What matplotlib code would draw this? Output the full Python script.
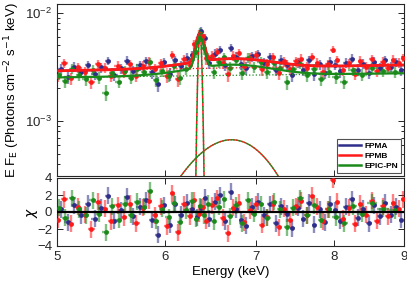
import numpy as np
import matplotlib
matplotlib.use("Agg")
import matplotlib.pyplot as plt
from matplotlib.ticker import FixedLocator, NullLocator, NullFormatter, FixedFormatter

plt.rcParams['font.family'] = ['Liberation Sans', 'DejaVu Sans']

# ---------------- data ----------------
series_names = ["FPMA", "FPMB", "EPIC-PN"]

fpma_E = [5.03, 5.09, 5.15, 5.21, 5.27, 5.33, 5.39, 5.45, 5.51, 5.57,
          5.63, 5.69, 5.75, 5.81, 5.87, 5.93, 5.99, 6.05, 6.11, 6.17,
          6.23, 6.29, 6.34, 6.38, 6.42, 6.47, 6.53, 6.59, 6.65, 6.71,
          6.77, 6.83, 6.89, 6.96, 7.03, 7.10, 7.17, 7.24, 7.31, 7.38,
          7.45, 7.52, 7.59, 7.66, 7.73, 7.80, 7.87, 7.94, 8.01, 8.08,
          8.16, 8.24, 8.32, 8.40, 8.48, 8.56, 8.64, 8.72, 8.80, 8.88, 8.96]
fpma_chi = [0.3, -1.2, 0.8, -0.4, 1.0, -0.8, 0.5, 1.9, -1.0, 0.2,
            1.8, -0.5, 0.6, 1.4, -0.9, -2.7, 0.8, -1.5, 0.9, -0.3,
            1.1, 0.4, -0.6, 0.5, 1.7, -0.8, 1.2, 2.0, -1.1, 2.4,
            0.3, -0.9, -1.6, 0.6, 1.2, -0.4, 0.9, -1.3, 0.7, -0.2,
            -1.9, 0.5, -0.8, 1.1, -1.5, 0.3, -1.2, 0.9, 0.2, -1.0,
            0.6, 1.5, -0.7, 0.4, -1.3, 0.8, -0.5, 1.1, -0.3, 0.6, -0.9]

fpmb_E = [5.01, 5.06, 5.12, 5.18, 5.24, 5.30, 5.36, 5.42, 5.48, 5.54,
          5.60, 5.66, 5.72, 5.78, 5.84, 5.90, 5.96, 6.02, 6.08, 6.14,
          6.20, 6.26, 6.31, 6.36, 6.40, 6.44, 6.50, 6.56, 6.62, 6.68,
          6.74, 6.80, 6.86, 6.93, 7.00, 7.07, 7.14, 7.21, 7.28, 7.35,
          7.42, 7.49, 7.56, 7.63, 7.70, 7.77, 7.84, 7.91, 7.98, 8.04,
          8.12, 8.20, 8.28, 8.36, 8.44, 8.52, 8.60, 8.68, 8.76, 8.84,
          8.92, 8.99]
fpmb_chi = [-0.9, 1.5, -1.4, 0.6, -0.3, -2.0, 1.2, 0.4, -1.1, 0.8,
            -0.6, 1.0, -1.3, 0.5, 1.3, -0.4, 0.7, -1.7, 2.2, -2.4,
            0.9, -0.5, 1.4, -0.2, 0.6, -1.0, 0.8, 1.6, -0.7, -2.5,
            0.5, 1.1, -1.2, 0.2, 0.9, -1.5, -0.6, 1.0, -1.8, 0.4,
            -0.9, 0.7, 1.3, -0.4, 1.9, 0.6, -1.1, 0.3, 3.8, 1.2,
            -0.8, 0.5, -1.4, 1.0, -0.3, 1.3, -1.0, 0.7, -0.5, 1.1,
            0.4, 1.5]

epic_E = [5.02, 5.07, 5.13, 5.19, 5.25, 5.31, 5.37, 5.43, 5.49, 5.55,
          5.61, 5.67, 5.73, 5.79, 5.85, 5.91, 5.97, 6.04, 6.10, 6.16,
          6.22, 6.28, 6.33, 6.37, 6.41, 6.46, 6.52, 6.58, 6.64, 6.70,
          6.77, 6.84, 6.91, 6.98, 7.06, 7.14, 7.22, 7.30, 7.38, 7.46,
          7.55, 7.64, 7.73, 7.82, 7.92, 8.02, 8.13, 8.25, 8.38, 8.52,
          8.68, 8.86]
epic_chi = [0.5, -0.7, 1.6, 0.3, -0.4, 1.4, -0.2, -2.4, 0.7, -0.9,
            0.9, -0.3, 1.2, 0.6, 2.5, -1.0, 0.4, -0.6, 1.1, -1.2,
            0.2, 1.3, -0.8, 0.7, -0.4, 1.0, -1.1, 0.6, 1.5, -0.5,
            0.8, -1.3, 1.4, -0.2, 0.9, -0.7, 1.2, 0.3, -1.8, 0.5,
            1.6, -0.4, 0.8, -0.9, 0.3, -0.6, -1.3, 0.7, -0.2, 1.1,
            0.4, 0.2]

rel_err = {"FPMA": 0.11, "FPMB": 0.11, "EPIC-PN": 0.12}

# model parameters
cont_norm5 = {"FPMA": 2.9e-3, "FPMB": 2.9e-3, "EPIC-PN": 2.52e-3}
cont_index = {"FPMA": 0.21, "FPMB": 0.21, "EPIC-PN": 0.15}
broad_amp, broad_E, broad_sig = 6.7e-4, 6.72, 0.445
narrow_area, narrow_E = 2.9e-4, 6.37
narrow_sig_comp, narrow_sig_fold = 0.018, 0.040

colors = {"FPMA": "#2e2e8a", "FPMB": "#ff1a1a", "EPIC-PN": "#1a8a1a"}

# ---------------- model functions ----------------
def cont(E, s):
    return cont_norm5[s] * (np.asarray(E) / 5.0) ** cont_index[s]

def gauss(E, amp, c, sig):
    return amp * np.exp(-0.5 * ((np.asarray(E) - c) / sig) ** 2)

def narrow(E, sig):
    amp = narrow_area / (sig * np.sqrt(2 * np.pi))
    return gauss(E, amp, narrow_E, sig)

def total(E, s):
    return cont(E, s) + gauss(E, broad_amp, broad_E, broad_sig) + narrow(E, narrow_sig_fold)

def halfwidths(E):
    E = np.asarray(E)
    d = np.diff(E)
    left = np.concatenate([[d[0]], d]) / 2
    right = np.concatenate([d, [d[-1]]]) / 2
    return np.vstack([left, right])

data = {"FPMA": (fpma_E, fpma_chi), "FPMB": (fpmb_E, fpmb_chi), "EPIC-PN": (epic_E, epic_chi)}

# ---------------- figure ----------------
fig = plt.figure(figsize=(4.07, 2.84), dpi=100)
L, R = 57 / 407, 404 / 407
ax1 = fig.add_axes([L, 1 - 176 / 284, R - L, (176 - 4) / 284])
ax2 = fig.add_axes([L, 1 - 246 / 284, R - L, (246 - 178) / 284])

Efine = np.linspace(5, 9, 3000)

for s in series_names:
    E, chi = data[s]
    E = np.asarray(E); chi = np.asarray(chi)
    m = total(E, s)
    err = m * rel_err[s]
    flux = m + chi * err
    xe = halfwidths(E)
    ax1.errorbar(E, flux, yerr=err, xerr=xe, fmt='none', ecolor=colors[s],
                 elinewidth=1.7, alpha=0.55, zorder=2)
    ax1.plot(E, flux, 'o', color=colors[s], ms=3.4, mew=0, zorder=3)
    ax2.errorbar(E, chi, yerr=np.ones_like(chi), xerr=xe, fmt='none', ecolor=colors[s],
                 elinewidth=1.7, alpha=0.55, zorder=2)
    ax2.plot(E, chi, 'o', color=colors[s], ms=3.4, mew=0, zorder=3)

# model lines
ax1.plot(Efine, total(Efine, "FPMA"), color=colors["FPMA"], lw=1.6, zorder=4)
ax1.plot(Efine, total(Efine, "FPMB"), color=colors["FPMB"], lw=2.0, zorder=4)
ax1.plot(Efine, total(Efine, "EPIC-PN"), color=colors["EPIC-PN"], lw=1.6, zorder=5)
# continua
ax1.plot(Efine, cont(Efine, "FPMB"), color=colors["FPMB"], lw=0.9, ls=':', zorder=4)
ax1.plot(Efine, cont(Efine, "EPIC-PN"), color=colors["EPIC-PN"], lw=0.9, ls=':', zorder=4)
# broad line
bl = gauss(Efine, broad_amp, broad_E, broad_sig)
ax1.plot(Efine, bl, color=colors["EPIC-PN"], lw=1.0, zorder=4)
ax1.plot(Efine, bl, color=colors["FPMB"], lw=1.0, ls=(0, (1, 1)), zorder=4)
# narrow line component
nl = narrow(Efine, narrow_sig_comp)
ax1.plot(Efine, nl, color=colors["FPMB"], lw=1.1, ls=(0, (3, 2)), zorder=4)
ax1.plot(Efine, nl, color=colors["EPIC-PN"], lw=1.1, ls=(2.5, (3, 2)), zorder=4)

ax2.axhline(0, color='black', lw=1.6, zorder=4)

# axes styling
xt = [5, 6, 7, 8, 9]
for ax in (ax1, ax2):
    ax.set_xscale('log')
    ax.set_xlim(5, 9)
    ax.xaxis.set_major_locator(FixedLocator(xt))
    ax.xaxis.set_minor_locator(NullLocator())
    ax.xaxis.set_minor_formatter(NullFormatter())
    ax.tick_params(which='both', direction='in', top=True, right=True,
                   labelsize=9.5, colors='#262626', width=0.7)
    ax.tick_params(which='major', length=4)
    ax.tick_params(which='minor', length=2)
    for sp in ax.spines.values():
        sp.set_color('#262626'); sp.set_linewidth(0.8)

ax1.set_yscale('log')
ax1.set_ylim(3.1e-4, 1.2e-2)
ax1.xaxis.set_major_formatter(NullFormatter())
ax1.set_ylabel(r'E F$_\mathrm{E}$ (Photons cm$^{-2}$ s$^{-1}$ keV)', fontsize=9.5, labelpad=2)

ax2.xaxis.set_major_formatter(FixedFormatter([str(v) for v in xt]))
ax2.set_ylim(-4, 4)
ax2.set_yticks([-4, -2, 0, 2, 4])
ax2.set_xlabel('Energy (keV)', fontsize=9.5, labelpad=2)
ax2.set_ylabel(r'$\chi$', fontsize=10)
ax2.yaxis.set_label_coords(-0.05, 0.5)

handles = [plt.Line2D([], [], color=colors[s], lw=1.8) for s in series_names]
leg = ax1.legend(handles, series_names, loc='lower right',
                 prop={'weight': 'bold', 'size': 6}, frameon=True, fancybox=False,
                 edgecolor='#262626', handlelength=2.6, borderpad=0.3,
                 labelspacing=0.3, handletextpad=0.4, borderaxespad=0.4)
leg.get_frame().set_linewidth(0.8)

fig.savefig('out.png', dpi=100)
